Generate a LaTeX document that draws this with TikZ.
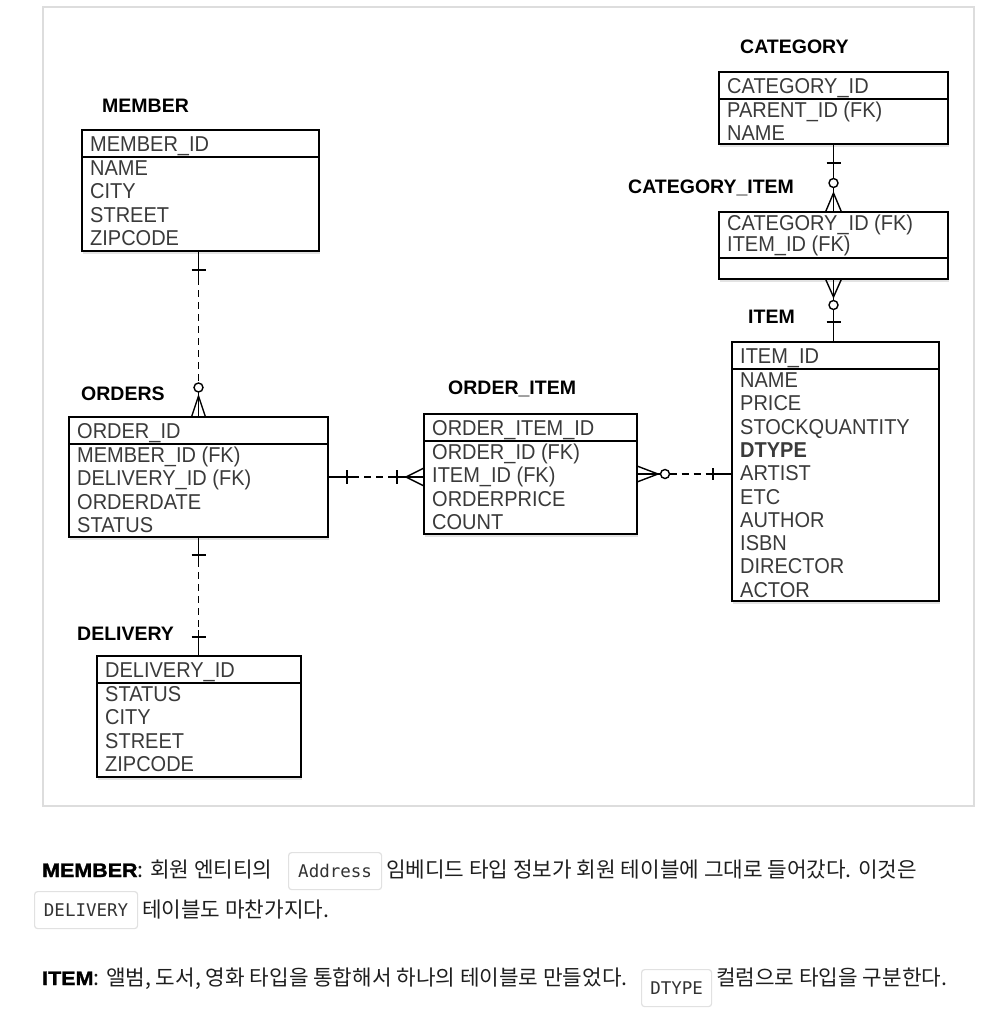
\documentclass[tikz,border=0pt]{standalone}
\usepackage{fontspec}
\usetikzlibrary{calc,shadows}
\setmainfont{Liberation Sans}
\newfontfamily\fieldfont[FakeStretch=0.93]{Liberation Sans}
\newfontfamily\heavyfont[BoldFeatures={FakeStretch=1.1,FakeBold=1.5}]{Liberation Sans}
\newfontfamily\korfont{Noto Sans CJK KR}
\newfontfamily\codefont{DejaVu Sans Mono}
\definecolor{framegray}{RGB}{221,221,221}
\definecolor{fieldgray}{RGB}{58,58,58}
\definecolor{textdark}{RGB}{30,30,30}
\definecolor{codetext}{RGB}{51,51,51}
\definecolor{codeborder}{RGB}{225,225,225}
\tikzset{
 entbox/.style={draw=black, line width=1.8pt, fill=white, inner sep=0pt, outer sep=0pt,
   drop shadow={shadow xshift=1pt, shadow yshift=-2.5pt, opacity=0.22}},
 divline/.style={line width=1.5pt},
 field/.style={inner sep=0pt, text=fieldgray, font=\fieldfont\fontsize{21.5}{23.3}\selectfont},
 enttitle/.style={inner sep=0pt, text=black, font=\bfseries\fontsize{19.5}{22}\selectfont},
 conn/.style={line width=1.4pt},
 dashconn/.style={line width=1.4pt, dash pattern=on 7pt off 5pt},
 kor/.style={inner sep=0pt, text=textdark, font=\korfont\fontsize{21.3}{26}\selectfont},
 heavy/.style={inner sep=0pt, text=black, font=\heavyfont\bfseries\fontsize{19.5}{24}\selectfont},
 codebox/.style={draw=codeborder, line width=1.2pt, rounded corners=3pt, fill=white, inner sep=0pt,
   minimum height=37pt, text=codetext, font=\codefont\fontsize{17.5}{20}\selectfont},
 framebox/.style={draw=framegray, line width=2pt, inner sep=0pt, outer sep=0pt},
}
\newcommand\erbox[7]{%
 \node[entbox, minimum width=#4pt, minimum height=#5pt, anchor=north west] (#1) at (#2,#3) {};
 \draw[divline] ([yshift=-27pt]#1.north west) -- ([yshift=-27pt]#1.north east);
 \node[field, anchor=base west] (#1-h) at ([xshift=8pt,yshift=-21pt]#1.north west) {#6};
 \foreach \f [count=\i] in {#7}{%
   \node[field, anchor=base west] (#1-\i) at ([xshift=8pt,yshift={-45.5pt-(\i-1)*23.3pt}]#1.north west) {\f};
 }%
}
\begin{document}
\begin{tikzpicture}[x=1pt,y=-1pt]
\useasboundingbox (0,0) rectangle (1008,1020);
\node[framebox, minimum width=931pt, minimum height=799pt, anchor=north west] (frame) at (43,7) {};

% entity titles
\node[enttitle, anchor=base west] (lbl-member) at (102,112) {MEMBER};
\node[enttitle, anchor=base west] (lbl-orders) at (81,400) {ORDERS};
\node[enttitle, anchor=base west] (lbl-delivery) at (77,640) {DELIVERY};
\node[enttitle, anchor=base west] (lbl-orderitem) at (448,394) {ORDER\_ITEM};
\node[enttitle, anchor=base west] (lbl-category) at (740,53) {CATEGORY};
\node[enttitle, anchor=base west] (lbl-catitem) at (628,193) {CATEGORY\_ITEM};
\node[enttitle, anchor=base west] (lbl-item) at (748,323) {ITEM};

% entities
\erbox{member}{82}{130}{237}{121}{MEMBER\_ID}{NAME,CITY,STREET,ZIPCODE}
\erbox{orders}{69}{417}{259}{120}{ORDER\_ID}{MEMBER\_ID (FK),DELIVERY\_ID (FK),ORDERDATE,STATUS}
\erbox{delivery}{97}{656}{204}{121}{DELIVERY\_ID}{STATUS,CITY,STREET,ZIPCODE}
\erbox{order_item}{424}{414}{213}{120}{ORDER\_ITEM\_ID}{ORDER\_ID (FK),ITEM\_ID (FK),ORDERPRICE,COUNT}
\erbox{item}{732}{342}{207}{259}{ITEM\_ID}{NAME,PRICE,STOCKQUANTITY,{\bfseries DTYPE},ARTIST,ETC,AUTHOR,ISBN,DIRECTOR,ACTOR}
\erbox{category}{719}{72}{229}{72}{CATEGORY\_ID}{PARENT\_ID (FK),NAME}

\node[entbox, minimum width=229pt, minimum height=67pt, anchor=north west] (category_item) at (719,212) {};
\draw[divline] ([yshift=-46pt]category_item.north west) -- ([yshift=-46pt]category_item.north east);
\node[field, anchor=base west] (category_item-1) at ([xshift=8pt,yshift=-18pt]category_item.north west) {CATEGORY\_ID (FK)};
\node[field, anchor=base west] (category_item-2) at ([xshift=8pt,yshift=-39.5pt]category_item.north west) {ITEM\_ID (FK)};

% 1 member - orders
\coordinate (m1) at (member.south -| orders.north);
\coordinate (m2) at (orders.north);
\draw[conn] (m1) -- ($(m1)+(0,27)$);
\draw[conn] ($(m1)+(-7,19)$) -- ($(m1)+(7,19)$);
\draw[dashconn] ($(m1)+(0,27)$) -- ($(m2)+(0,-34)$);
\draw[conn] ($(m2)+(0,-29.5)$) circle[radius=4.5pt];
\draw[conn] ($(m2)+(0,-25)$) -- (m2);
\draw[conn] ($(m2)+(-7,0)$) -- ($(m2)+(0,-21)$) -- ($(m2)+(7,0)$);

% 2 orders - delivery
\coordinate (d1) at (orders.south);
\coordinate (d2) at (orders.south |- delivery.north);
\draw[conn] (d1) -- ($(d1)+(0,23)$);
\draw[conn] ($(d1)+(-7,18)$) -- ($(d1)+(7,18)$);
\draw[dashconn] ($(d1)+(0,23)$) -- ($(d2)+(0,-26)$);
\draw[conn] ($(d2)+(0,-26)$) -- (d2);
\draw[conn] ($(d2)+(-7,-19)$) -- ($(d2)+(7,-19)$);

% 3 orders - order_item
\coordinate (o1) at (orders.east);
\coordinate (o2) at (orders.east -| order_item.west);
\draw[conn] (o1) -- ($(o1)+(24,0)$);
\draw[conn] ($(o1)+(19,-7)$) -- ($(o1)+(19,7)$);
\draw[dashconn] ($(o1)+(24,0)$) -- ($(o2)+(-32,0)$);
\draw[conn] ($(o2)+(-32,0)$) -- (o2);
\draw[conn] ($(o2)+(-27,-7)$) -- ($(o2)+(-27,7)$);
\draw[conn] ($(o2)+(0,-9)$) -- ($(o2)+(-18,0)$) -- ($(o2)+(0,9)$);

% 4 order_item - item
\coordinate (i1) at (order_item.east);
\coordinate (i2) at (order_item.east -| item.west);
\draw[conn] ($(i1)+(0,-8)$) -- ($(i1)+(21,0)$) -- ($(i1)+(0,8)$);
\draw[conn] (i1) -- ($(i1)+(23.5,0)$);
\draw[conn] ($(i1)+(28,0)$) circle[radius=4.5pt];
\draw[dashconn] ($(i1)+(32.5,0)$) -- ($(i2)+(-22,0)$);
\draw[conn] ($(i2)+(-22,0)$) -- (i2);
\draw[conn] ($(i2)+(-19,-6)$) -- ($(i2)+(-19,6)$);

% 5 category - category_item
\coordinate (k1) at (category.south);
\coordinate (k2) at (category_item.north);
\draw[conn] (k1) -- ($(k1)+(0,34.5)$);
\draw[conn] ($(k1)+(-7,19)$) -- ($(k1)+(7,19)$);
\draw[conn] ($(k1)+(0,39)$) circle[radius=4.5pt];
\draw[conn] ($(k1)+(0,43.5)$) -- (k2);
\draw[conn] ($(k2)+(-8,0)$) -- ($(k2)+(0,-19)$) -- ($(k2)+(8,0)$);

% 6 category_item - item
\coordinate (q1) at (category_item.south);
\coordinate (q2) at (category_item.south |- item.north);
\draw[conn] ($(q1)+(-8,0)$) -- ($(q1)+(0,18)$) -- ($(q1)+(8,0)$);
\draw[conn] (q1) -- ($(q1)+(0,21.5)$);
\draw[conn] ($(q1)+(0,26)$) circle[radius=4.5pt];
\draw[conn] ($(q1)+(0,30.5)$) -- (q2);
\draw[conn] ($(q1)+(-7,43)$) -- ($(q1)+(7,43)$);

% bottom text
\node[heavy, anchor=base west] (t1a) at (42,877) {MEMBER};
\node[kor, anchor=base west] (t1b) at (t1a.base east) {: 회원 엔티티의};
\node[codebox, minimum width=93pt, anchor=north west] (addr) at (288,852) {Address};
\node[kor, anchor=base west] (t1c) at (386,877) {임베디드 타입 정보가 회원 테이블에 그대로 들어갔다. 이것은};
\node[codebox, minimum width=103pt, anchor=north west] (deliv) at (34,891) {DELIVERY};
\node[kor, anchor=base west] (t2) at (142,917) {테이블도 마찬가지다.};
\node[heavy, anchor=base west] (t3a) at (42,985) {ITEM};
\node[kor, anchor=base west] (t3b) at (t3a.base east) {: 앨범, 도서, 영화 타입을 통합해서 하나의 테이블로 만들었다.};
\node[codebox, minimum width=70pt, anchor=north west] (dtype) at (641,969) {DTYPE};
\node[kor, anchor=base west] (t3c) at (716,985) {컬럼으로 타입을 구분한다.};
\end{tikzpicture}
\end{document}
